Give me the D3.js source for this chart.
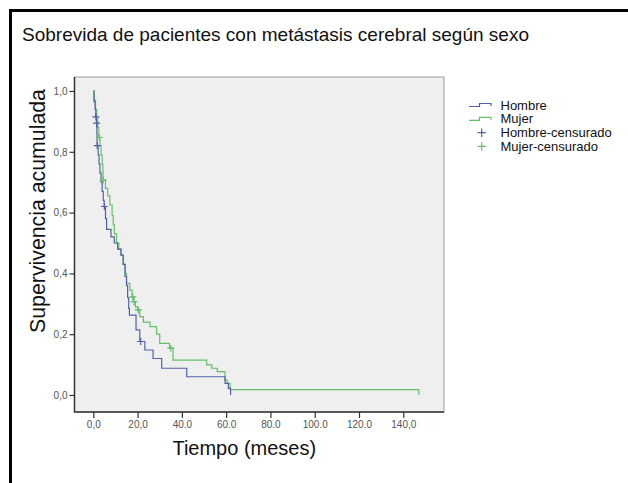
<!DOCTYPE html>
<html><head><meta charset="utf-8">
<script src="https://cdn.jsdelivr.net/npm/d3@7"></script>
<style>body{margin:0;background:#fff}svg{display:block}text{font-family:"Liberation Sans",Arial,sans-serif}</style>
</head><body>
<svg id="c" width="628" height="483"></svg>
<script>
// Kaplan-Meier steps: [time (months), cumulative survival after the event]
const hombreSteps = [[0,1.0],[0.3,0.965],[0.8,0.94],[1.1,0.915],[1.4,0.894],[1.6,0.86],[1.7,0.82],[2.2,0.79],[2.6,0.76],[3.0,0.73],[3.5,0.70],[4.0,0.67],[4.5,0.64],[4.9,0.62],[5.5,0.58],[6.0,0.545],[8.0,0.52],[9.5,0.50],[11,0.48],[12.5,0.46],[13.5,0.43],[14.3,0.39],[15,0.36],[15.5,0.32],[16,0.285],[16.3,0.263],[19.3,0.214],[21,0.176],[23.3,0.148],[27,0.12],[30.9,0.088],[42.2,0.06],[59.5,0.038],[61,0.022],[62,0]];
const mujerSteps = [[0,1.0],[0.5,0.97],[1.0,0.94],[1.5,0.91],[2.0,0.88],[2.5,0.847],[3.0,0.82],[3.5,0.79],[4.0,0.76],[4.3,0.735],[4.4,0.707],[5.5,0.68],[6.5,0.655],[7.5,0.625],[8.5,0.59],[9.0,0.56],[9.5,0.53],[10.5,0.50],[11.5,0.48],[12.5,0.46],[13.5,0.43],[14.5,0.40],[15.0,0.367],[16.5,0.345],[17.5,0.323],[18.2,0.307],[19,0.29],[20,0.28],[21,0.258],[22.6,0.24],[25.6,0.225],[28.6,0.2],[30,0.17],[34.4,0.154],[36,0.115],[51.2,0.099],[53.5,0.088],[56,0.077],[59.5,0.049],[60.5,0.038],[61.8,0.018],[147,0]];
// censored observations: [time, survival]
const hombreCensored = [[1.2,0.915],[1.5,0.894],[1.8,0.82],[5.0,0.62],[21.4,0.176]];
const mujerCensored = [[2.7,0.847],[4.5,0.707],[17.8,0.323],[18.4,0.307],[20.3,0.28],[35,0.154]];

const xTicks = [0,20,40,60,80,100,120,140];
const xTickLabels = ["0,0","20,0","40.0","60.0","80.0","100.0","120.0","140,0"];
const yTicks = [0,0.2,0.4,0.6,0.8,1.0];
const yTickLabels = ["0,0","0,2","0,4","0,6","0,8","1,0"];
const legendLabels = ["Hombre","Mujer","Hombre-censurado","Mujer-censurado"];
const title = "Sobrevida de pacientes con metástasis cerebral según sexo";
const xTitle = "Tiempo (meses)";
const yTitle = "Supervivencia acumulada";

const blue = "#5361a8", green = "#62c067";
const svg = d3.select("#c");

// outer frame
svg.append("path").attr("d","M10.5,483 V10.5 H628").attr("fill","none").attr("stroke","#000").attr("stroke-width",3);

svg.append("text").attr("x",22).attr("y",41).attr("font-size",19).attr("fill","#111").text(title);

const P = {l:74.5, r:444, t:77, b:412};
const x = d3.scaleLinear().domain([0,140]).range([93.3,403.3]);
const y = d3.scaleLinear().domain([0,1]).range([395,91]);

svg.append("rect").attr("x",P.l).attr("y",P.t).attr("width",P.r-P.l).attr("height",P.b-P.t)
  .attr("fill","#efefef").attr("stroke","#9a9a9a").attr("stroke-width",1);
svg.append("path").attr("d",`M${P.l},${P.t} V${P.b} H${P.r}`).attr("fill","none").attr("stroke","#333").attr("stroke-width",1.5);

const yAxis = svg.append("g").attr("transform",`translate(${P.l},0)`)
  .call(d3.axisLeft(y).tickValues(yTicks).tickFormat((d,i)=>yTickLabels[i]).tickSize(5).tickPadding(2));
const xAxis = svg.append("g").attr("transform",`translate(0,${P.b})`)
  .call(d3.axisBottom(x).tickValues(xTicks).tickFormat((d,i)=>xTickLabels[i]).tickSize(6).tickPadding(3));
[yAxis,xAxis].forEach(a=>{
  a.select(".domain").remove();
  a.selectAll("line").attr("stroke","#333").attr("stroke-width",1.2);
  a.selectAll("text").attr("font-size",10).attr("fill","#555").attr("font-family","'Liberation Sans',Arial,sans-serif");
});

const line = d3.line().x(d=>x(d[0])).y(d=>y(d[1])).curve(d3.curveStepAfter);
function drawCurve(steps,color){
  svg.append("path").attr("d",line(steps)).attr("fill","none").attr("stroke",color).attr("stroke-width",1.2);
}
drawCurve(mujerSteps,green);
drawCurve(hombreSteps,blue);

function drawCensor(pts,color){
  svg.append("g").selectAll("path").data(pts).join("path")
    .attr("d",d=>`M${x(d[0])-3.5},${y(d[1])} h7 M${x(d[0])},${y(d[1])-3.5} v7`)
    .attr("stroke",color).attr("stroke-width",1.2).attr("fill","none");
}
drawCensor(mujerCensored,green);
drawCensor(hombreCensored,blue);

svg.append("text").attr("x",244.3).attr("y",455).attr("text-anchor","middle").attr("font-size",20).attr("fill","#111").text(xTitle);
svg.append("text").attr("transform","translate(45,211) rotate(-90)").attr("text-anchor","middle").attr("font-size",21.3).attr("fill","#111").text(yTitle);

// legend
const legColors = [blue,green,blue,green];
const lg = svg.append("g");
legendLabels.forEach((lab,i)=>{
  const by = 109.5 + i*13.8;
  const cy = by - 4.5;
  if(i<2){
    lg.append("path").attr("d",`M469,${cy+1.5} H479.5 V${cy-1.5} H491 V${cy+1}`).attr("fill","none").attr("stroke",legColors[i]).attr("stroke-width",1.2);
  } else {
    lg.append("path").attr("d",`M477.5,${cy} h8.5 M481.7,${cy-4.2} v8.5`).attr("fill","none").attr("stroke",legColors[i]).attr("stroke-width",1.2);
  }
  lg.append("text").attr("x",500.5).attr("y",by).attr("font-size",13).attr("fill","#111").text(lab);
});
</script>
</body></html>
